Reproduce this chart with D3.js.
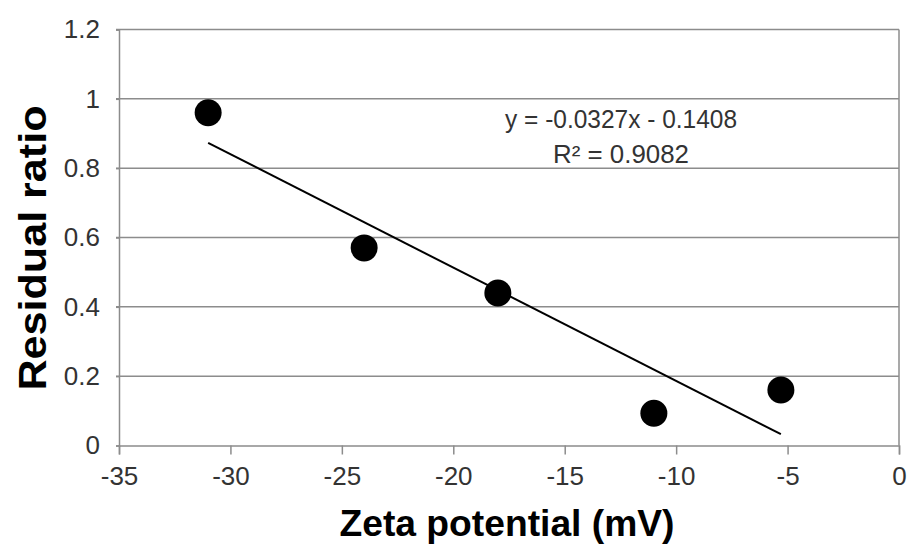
<!DOCTYPE html>
<html>
<head>
<meta charset="utf-8">
<script src="https://cdn.jsdelivr.net/npm/d3@7"></script>
<style>
  body { margin: 0; background: #fff; }
  svg { display: block; font-family: "Liberation Sans", Arial, sans-serif; }
</style>
</head>
<body>
<svg class="chart"></svg>
<script>
const zeta = [-31, -24, -18, -11, -5.3];
const residual = [0.96, 0.57, 0.44, 0.093, 0.16];
const xTicks = [-35, -30, -25, -20, -15, -10, -5, 0];
const yTicks = [0, 0.2, 0.4, 0.6, 0.8, 1, 1.2];
const slope = -0.0327;
const intercept = -0.1408;
const equation = ["y = -0.0327x - 0.1408", "R² = 0.9082"];

const width = 911;
const height = 547;
const margin = { top: 29.5, right: 12, bottom: 101.5, left: 119 };

const svg = d3.select(".chart")
  .attr("width", width)
  .attr("height", height);

const x = d3.scaleLinear()
  .domain([-35, 0])
  .range([margin.left, width - margin.right]);
const y = d3.scaleLinear()
  .domain([0, 1.2])
  .range([height - margin.bottom, margin.top]);

// horizontal gridlines
svg.append("g")
  .selectAll("line")
  .data(yTicks.filter((d) => d > 0))
  .enter()
  .append("line")
  .attr("x1", margin.left - 3)
  .attr("x2", x(0))
  .attr("y1", (d) => y(d))
  .attr("y2", (d) => y(d))
  .attr("stroke", "#8c8c8c")
  .attr("stroke-width", 1.5);

// right border
svg.append("line")
  .attr("x1", x(0))
  .attr("x2", x(0))
  .attr("y1", y(1.2))
  .attr("y2", y(0))
  .attr("stroke", "#8c8c8c")
  .attr("stroke-width", 1.5);

const xAxis = d3.axisBottom(x)
  .tickValues(xTicks)
  .tickSize(9)
  .tickPadding(12)
  .tickFormat(d3.format("d"));

const gx = svg.append("g")
  .attr("transform", "translate(0," + y(0) + ")")
  .call(xAxis);
gx.select(".domain").attr("stroke", "#8c8c8c").attr("stroke-width", 1.5);
gx.selectAll(".tick line").attr("stroke", "#8c8c8c").attr("stroke-width", 1.5);
gx.selectAll(".tick text")
  .attr("fill", "#333")
  .attr("font-size", "26px")
  .attr("font-family", "Liberation Sans, Arial, sans-serif")
  .text((d) => (d < 0 ? "-" + Math.abs(d) : d));

const yAxis = d3.axisLeft(y)
  .tickValues(yTicks)
  .tickSize(3)
  .tickPadding(16)
  .tickFormat((d) => String(+d.toFixed(1)));

const gy = svg.append("g")
  .attr("transform", "translate(" + margin.left + ",0)")
  .call(yAxis);
gy.select(".domain").attr("stroke", "#8c8c8c").attr("stroke-width", 1.5);
gy.selectAll(".tick line").attr("stroke", "#8c8c8c").attr("stroke-width", 1.5);
gy.selectAll(".tick text")
  .attr("fill", "#333")
  .attr("font-size", "26px")
  .attr("font-family", "Liberation Sans, Arial, sans-serif");

// trendline
const xs = d3.extent(zeta);
svg.append("line")
  .attr("x1", x(xs[0]))
  .attr("y1", y(slope * xs[0] + intercept))
  .attr("x2", x(xs[1]))
  .attr("y2", y(slope * xs[1] + intercept))
  .attr("stroke", "#000")
  .attr("stroke-width", 2);

// points
svg.append("g")
  .selectAll("circle")
  .data(zeta)
  .enter()
  .append("circle")
  .attr("cx", (d) => x(d))
  .attr("cy", (d, i) => y(residual[i]))
  .attr("r", 13.5)
  .attr("fill", "#000");

// equation label
svg.append("g")
  .selectAll("text")
  .data(equation)
  .enter()
  .append("text")
  .attr("x", 621)
  .attr("y", (d, i) => 128 + i * 35)
  .attr("text-anchor", "middle")
  .attr("font-size", "25px")
  .attr("fill", "#333")
  .attr("textLength", (d, i) => (i === 0 ? 232 : 136))
  .attr("lengthAdjust", "spacingAndGlyphs")
  .text((d) => d);

// axis titles
svg.append("text")
  .attr("text-anchor", "middle")
  .attr("font-size", "36px")
  .attr("font-weight", "bold")
  .attr("fill", "#000")
  .attr("textLength", 335)
  .attr("lengthAdjust", "spacingAndGlyphs")
  .attr("transform", "translate(507,536)")
  .text("Zeta potential (mV)");

svg.append("text")
  .attr("text-anchor", "middle")
  .attr("font-size", "38px")
  .attr("font-weight", "bold")
  .attr("fill", "#000")
  .attr("textLength", 285)
  .attr("lengthAdjust", "spacingAndGlyphs")
  .attr("transform", "translate(46,248) rotate(-90)")
  .text("Residual ratio");
</script>
</body>
</html>
